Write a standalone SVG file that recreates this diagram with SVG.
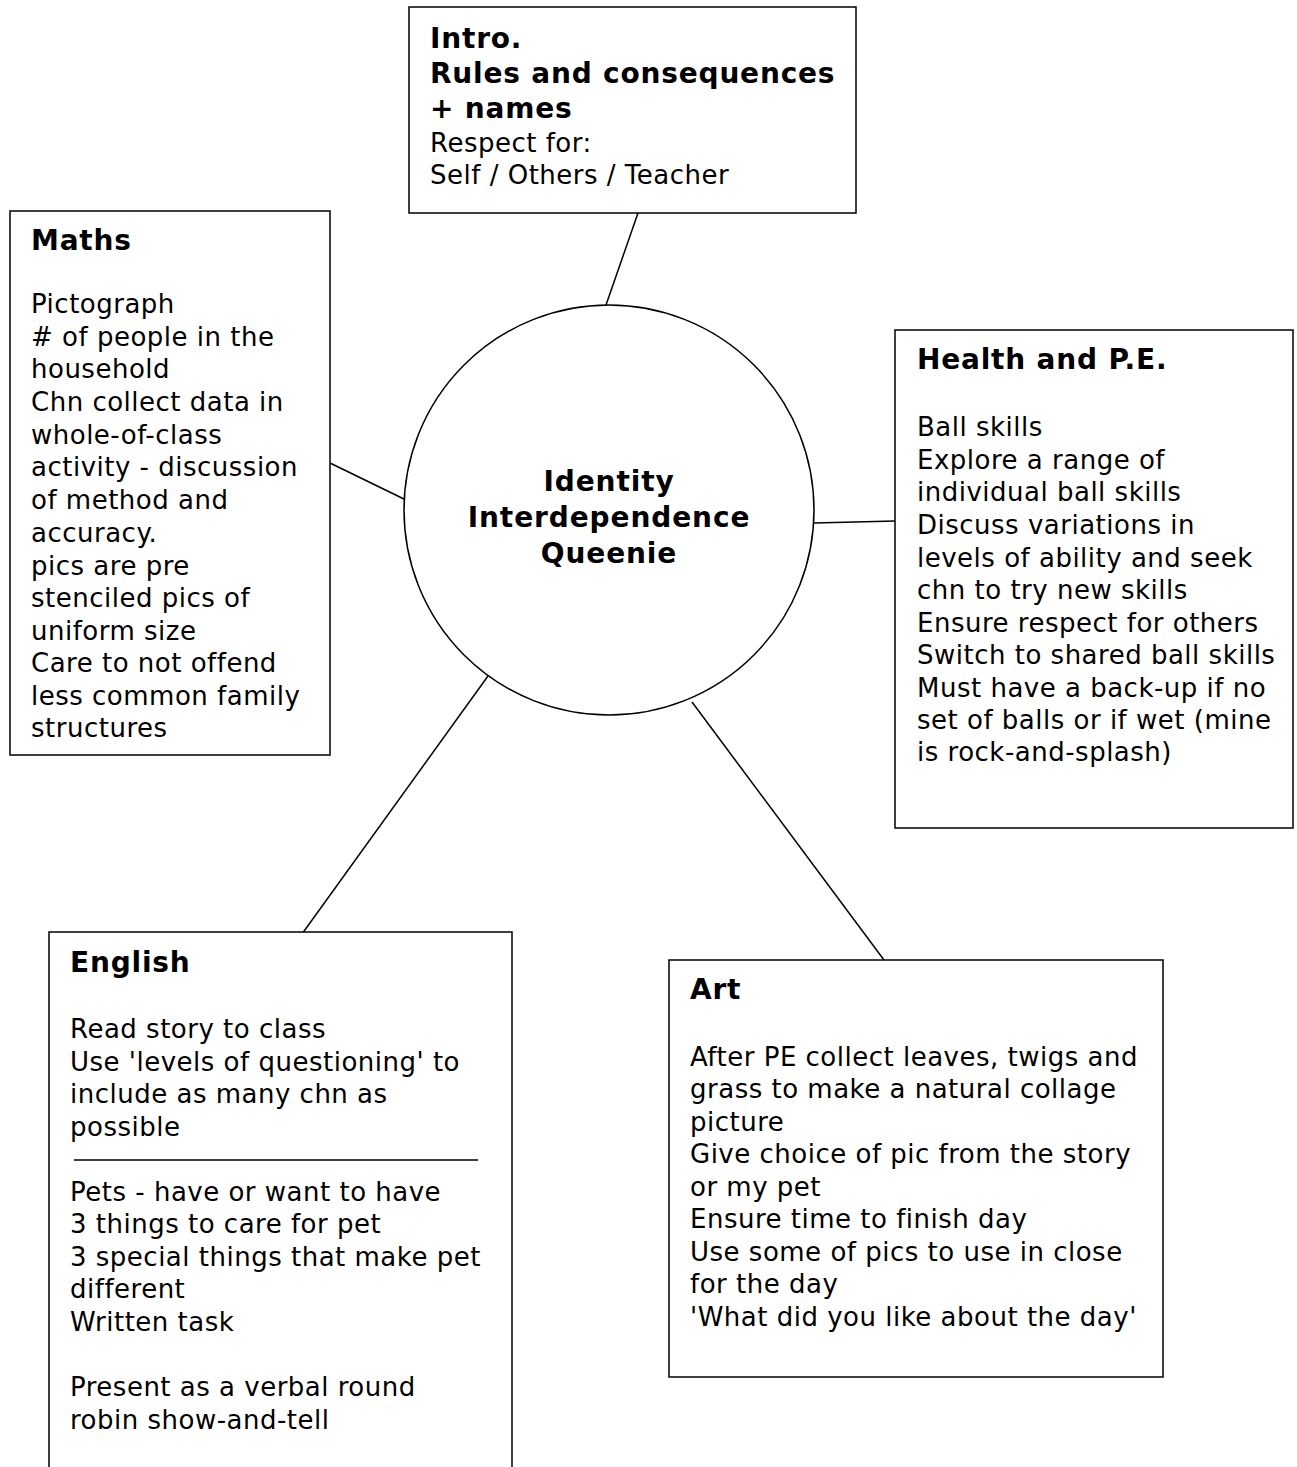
<svg xmlns="http://www.w3.org/2000/svg" width="1297" height="1467" viewBox="0 0 1297 1467">
<style>
.box{fill:#fff;stroke:#000;stroke-width:1.5}
.c line{stroke:#000;stroke-width:1.5}
text{font-family:"DejaVu Sans",Verdana,sans-serif;font-size:26px;letter-spacing:0.5px;fill:#000}
.t{font-weight:bold;font-size:28px;letter-spacing:0.8px}
.ctr{text-anchor:middle;font-weight:bold;font-size:28px;letter-spacing:0.9px}
</style>
<rect width="1297" height="1467" fill="#fff"/>
<g class="c">
<line x1="638" y1="213" x2="606" y2="305"/>
<line x1="330" y1="463" x2="406" y2="500"/>
<line x1="814" y1="523" x2="895" y2="521"/>
<line x1="302" y1="934" x2="488" y2="676"/>
<line x1="692" y1="702" x2="884" y2="960"/>
</g>
<g id="intro">
<rect class="box" x="409" y="7" width="447" height="206"/>
<text class="t" x="430" y="48">Intro.</text>
<text class="t" x="430" y="83">Rules and consequences</text>
<text class="t" x="430" y="118">+ names</text>
<text x="430" y="152">Respect for:</text>
<text x="430" y="184">Self / Others / Teacher</text>
</g>
<g id="maths">
<rect class="box" x="10" y="211" width="320" height="544"/>
<text class="t" x="31" y="250">Maths</text>
<text x="31" y="313">Pictograph</text>
<text x="31" y="346"># of people in the</text>
<text x="31" y="378">household</text>
<text x="31" y="411">Chn collect data in</text>
<text x="31" y="444">whole-of-class</text>
<text x="31" y="476">activity - discussion</text>
<text x="31" y="509">of method and</text>
<text x="31" y="542">accuracy.</text>
<text x="31" y="575">pics are pre</text>
<text x="31" y="607">stenciled pics of</text>
<text x="31" y="640">uniform size</text>
<text x="31" y="672">Care to not offend</text>
<text x="31" y="705">less common family</text>
<text x="31" y="737">structures</text>
</g>
<g id="center">
<circle class="box" cx="609" cy="510" r="205"/>
<text class="ctr" x="609" y="491">Identity</text>
<text class="ctr" x="609" y="527">Interdependence</text>
<text class="ctr" x="609" y="563">Queenie</text>
</g>
<g id="health">
<rect class="box" x="895" y="330" width="398" height="498"/>
<text class="t" x="917" y="369">Health and P.E.</text>
<text x="917" y="436">Ball skills</text>
<text x="917" y="469">Explore a range of</text>
<text x="917" y="501">individual ball skills</text>
<text x="917" y="534">Discuss variations in</text>
<text x="917" y="567">levels of ability and seek</text>
<text x="917" y="599">chn to try new skills</text>
<text x="917" y="632">Ensure respect for others</text>
<text x="917" y="664">Switch to shared ball skills</text>
<text x="917" y="697">Must have a back-up if no</text>
<text x="917" y="729">set of balls or if wet (mine</text>
<text x="917" y="761">is rock-and-splash)</text>
</g>
<g id="english">
<path class="box" d="M49 1467 V932 H512 V1467"/>
<text class="t" x="70" y="972">English</text>
<text x="70" y="1038">Read story to class</text>
<text x="70" y="1071">Use 'levels of questioning' to</text>
<text x="70" y="1103">include as many chn as</text>
<text x="70" y="1136">possible</text>
<line x1="74" y1="1160" x2="478" y2="1160" stroke="#000" stroke-width="1.5"/>
<text x="70" y="1201">Pets - have or want to have</text>
<text x="70" y="1233">3 things to care for pet</text>
<text x="70" y="1266">3 special things that make pet</text>
<text x="70" y="1298">different</text>
<text x="70" y="1331">Written task</text>
<text x="70" y="1396">Present as a verbal round</text>
<text x="70" y="1429">robin show-and-tell</text>
</g>
<g id="art">
<rect class="box" x="669" y="960" width="494" height="417"/>
<text class="t" x="690" y="999">Art</text>
<text x="690" y="1066">After PE collect leaves, twigs and</text>
<text x="690" y="1098">grass to make a natural collage</text>
<text x="690" y="1131">picture</text>
<text x="690" y="1163">Give choice of pic from the story</text>
<text x="690" y="1196">or my pet</text>
<text x="690" y="1228">Ensure time to finish day</text>
<text x="690" y="1261">Use some of pics to use in close</text>
<text x="690" y="1293">for the day</text>
<text x="690" y="1326">'What did you like about the day'</text>
</g>
</svg>
